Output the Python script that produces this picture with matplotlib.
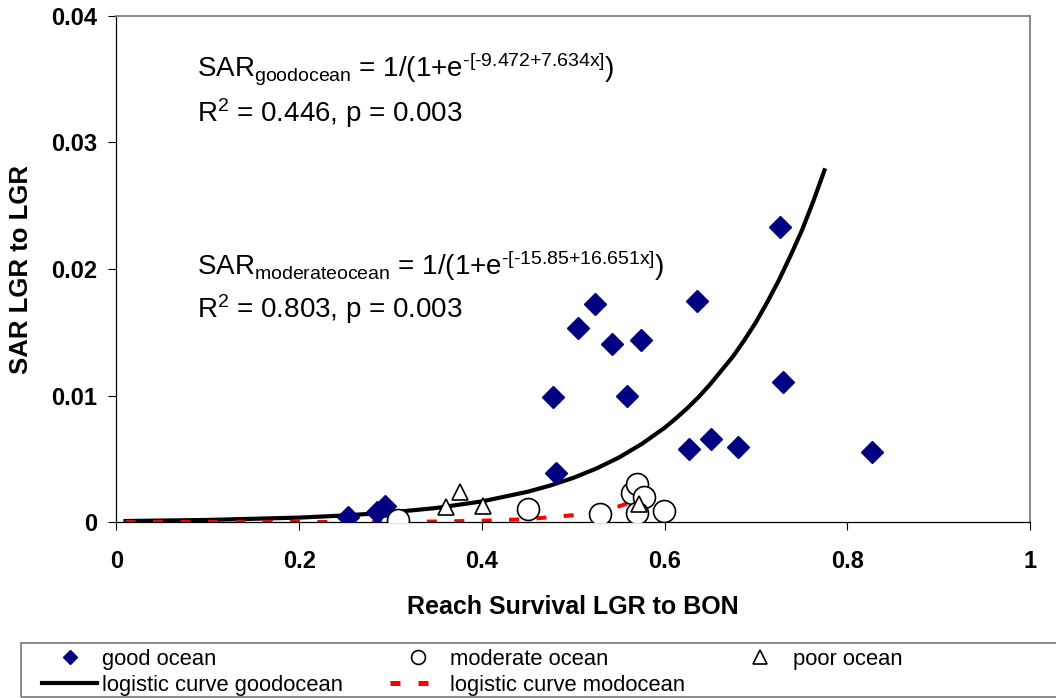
import matplotlib
matplotlib.use('Agg')
import matplotlib.pyplot as plt
from matplotlib.lines import Line2D
from matplotlib.patches import Rectangle

plt.rcParams['font.family'] = ['Liberation Sans', 'DejaVu Sans']
plt.rcParams['mathtext.fontset'] = 'custom'
plt.rcParams['mathtext.rm'] = 'Liberation Sans'
plt.rcParams['mathtext.it'] = 'Liberation Sans:italic'

# observed SAR vs reach survival
good_x = [0.253, 0.285, 0.294, 0.478, 0.481, 0.505, 0.524, 0.542, 0.559,
          0.574, 0.627, 0.636, 0.651, 0.680, 0.726, 0.730, 0.827]
good_y = [0.0004, 0.0008, 0.0013, 0.0099, 0.0039, 0.0153, 0.0172, 0.0141, 0.0100,
          0.0144, 0.0058, 0.0175, 0.0066, 0.0059, 0.0233, 0.0111, 0.0055]

mod_x = [0.308, 0.450, 0.529, 0.564, 0.570, 0.577, 0.570, 0.599]
mod_y = [0.0002, 0.0010, 0.0006, 0.0023, 0.0030, 0.0020, 0.0007, 0.0009]

poor_x = [0.361, 0.376, 0.401, 0.572]
poor_y = [0.0012, 0.0024, 0.0013, 0.0014]

# fitted curves
curve_good_x = [0.01, 0.1, 0.2, 0.25, 0.3, 0.35, 0.4, 0.45, 0.475, 0.5, 0.525, 0.55,
                0.575, 0.6, 0.6125, 0.625, 0.6375, 0.65, 0.6625, 0.675, 0.6875,
                0.7, 0.7125, 0.725, 0.7375, 0.75, 0.7625, 0.775]
curve_good_y = [0.00008, 0.000165, 0.00035, 0.00052, 0.00076, 0.00111, 0.00163, 0.00239,
                0.00289, 0.00349, 0.00422, 0.0051, 0.00617, 0.00745, 0.0082, 0.00901,
                0.0099, 0.0109, 0.0120, 0.0131, 0.0144, 0.0158, 0.0174, 0.0191,
                0.0210, 0.0230, 0.0253, 0.0278]

curve_mod_x = [0.01, 0.1, 0.2, 0.3, 0.35, 0.4, 0.45, 0.5, 0.525, 0.55, 0.57]
curve_mod_y = [0.0, 0.0, 0.000003, 0.00002, 0.00004, 0.0001, 0.00023, 0.00054,
               0.00082, 0.00124, 0.00173]

navy = '#000080'
hy = '\u2010'  # plain hyphen, mathtext would turn '-' into a minus

fig = plt.figure(figsize=(10.56, 6.98), dpi=100)
ax = fig.add_axes([0.1103, 0.2521, 0.8651, 0.725])

ax.plot(curve_good_x, curve_good_y, '-', color='black', lw=3, zorder=2)
ax.plot(curve_mod_x, curve_mod_y, '--', color='red', lw=2.9, dashes=(2.5, 4.3), zorder=2)
ax.plot(good_x, good_y, 'D', color=navy, ms=11.7, mec=navy, zorder=3)
ax.plot(mod_x, mod_y, 'o', mfc='white', mec='black', mew=1.2, ms=15.8, zorder=4)
ax.plot(poor_x, poor_y, '^', mfc='white', mec='black', mew=1.2, ms=11, zorder=5)

ax.set_xlim(0, 1)
ax.set_ylim(0, 0.04)
ax.set_xticks([0, 0.2, 0.4, 0.6, 0.8, 1])
ax.set_xticklabels(['0', '0.2', '0.4', '0.6', '0.8', '1'])
ax.set_yticks([0, 0.01, 0.02, 0.03, 0.04])
ax.set_yticklabels(['0', '0.01', '0.02', '0.03', '0.04'])
ax.tick_params(direction='out', length=6, width=0.8, labelsize=17, color='black')
ax.tick_params(axis='x', pad=14)
ax.tick_params(axis='y', pad=8)
for lab in ax.get_xticklabels() + ax.get_yticklabels():
    lab.set_fontweight('bold')

ax.spines['left'].set_color('black')
ax.spines['bottom'].set_color('black')
ax.spines['left'].set_linewidth(0.9)
ax.spines['bottom'].set_linewidth(0.9)
ax.spines['top'].set_color('#808080')
ax.spines['right'].set_color('#808080')
ax.spines['top'].set_linewidth(1.3)
ax.spines['right'].set_linewidth(1.3)

ax.set_xlabel('Reach Survival LGR to BON', fontsize=18, fontweight='bold', labelpad=16)
ax.set_ylabel('SAR LGR to LGR', fontsize=18.5, fontweight='bold', labelpad=13)

eq1 = r'SAR$_{\mathrm{goodocean}}$ = 1/(1+e$^{\mathrm{%s[%s9.472{+}7.634x]}}$)' % (hy, hy)
eq2 = r'SAR$_{\mathrm{moderateocean}}$ = 1/(1+e$^{\mathrm{%s[%s15.85{+}16.651x]}}$)' % (hy, hy)
ax.text(0.088, 0.0352, eq1, fontsize=20, va='baseline', ha='left')
ax.text(0.088, 0.0316, r'R$^{2}$ = 0.446, p = 0.003', fontsize=20, va='baseline', ha='left')
ax.text(0.088, 0.01953, eq2, fontsize=20, va='baseline', ha='left')
ax.text(0.088, 0.01613, r'R$^{2}$ = 0.803, p = 0.003', fontsize=20, va='baseline', ha='left')

# legend frame runs off the right edge like the original
frame = Rectangle((21 / 1056, 1.0 / 698), 1.2, (697 - 643) / 698, transform=fig.transFigure,
                  fill=False, edgecolor='#808080', lw=1.3, clip_on=False)
fig.patches.append(frame)

handles = [
    Line2D([], [], ls='none', marker='D', color=navy, ms=7.6),
    Line2D([], [], color='black', lw=3),
    Line2D([], [], ls='none', marker='o', mfc='white', mec='black', mew=1.2, ms=10),
    Line2D([], [], color='red', lw=3.6, dashes=(2.0, 3.6)),
    Line2D([], [], ls='none', marker='^', mfc='white', mec='black', mew=1.2, ms=10),
]
labels = ['good ocean', 'logistic curve goodocean', 'moderate ocean',
          'logistic curve modocean', 'poor ocean']
leg = fig.legend(handles, labels, ncol=3, loc='upper left',
                 bbox_to_anchor=(42 / 1056, 1 - 649 / 698),
                 fontsize=15.8, frameon=False,
                 handlelength=2.51, handletextpad=0.23, columnspacing=2.15,
                 labelspacing=0.22, borderpad=0, borderaxespad=0)

fig.savefig('out.png', dpi=100)
